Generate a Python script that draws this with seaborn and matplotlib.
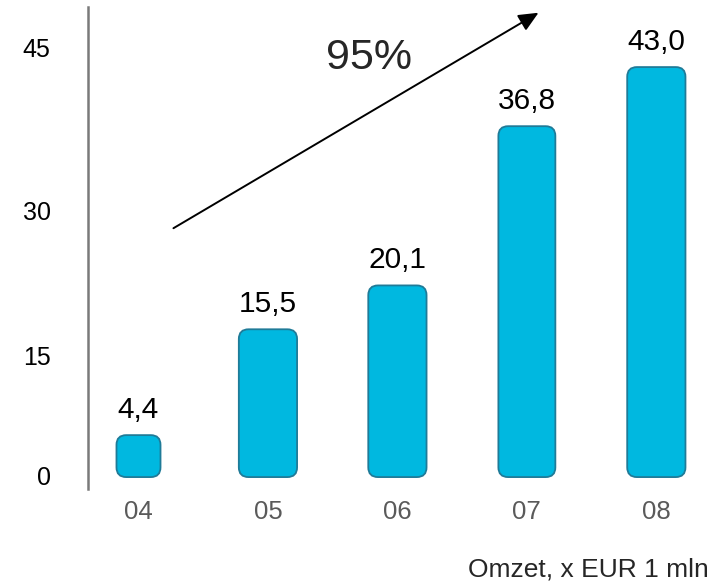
import matplotlib
matplotlib.use("Agg")
import matplotlib.pyplot as plt
import seaborn as sns
import pandas as pd
from matplotlib.patches import FancyBboxPatch

years = ["04", "05", "06", "07", "08"]
omzet = [4.4, 15.5, 20.1, 36.8, 43.0]
value_labels = ["4,4", "15,5", "20,1", "36,8", "43,0"]
ytick_labels = ["0", "15", "30", "45"]
ytick_pos = [0.2, 12.8, 28.0, 45.1]
growth_label = "95%"
unit_label = "Omzet, x EUR 1 mln"

# drawing styles (not data)
bar_widths = [0.34, 0.45, 0.45, 0.44, 0.45]

sns.set_theme(style="white")
plt.rcParams["font.family"] = ["Liberation Sans", "DejaVu Sans"]

df = pd.DataFrame({"jaar": years, "omzet": omzet})

W, H = 720, 583
fig = plt.figure(figsize=(7.2, 5.83), dpi=100)
ax_left, ax_right, ax_top, ax_bot = 88, 712, 7, 489
ax = fig.add_axes([ax_left / W, (H - ax_bot) / H, (ax_right - ax_left) / W, (ax_bot - ax_top) / H])

sns.barplot(data=df, x="jaar", y="omzet", color="#00B8E0", width=0.45, ax=ax,
            saturation=1)

xpx = 129.5  # px per category
ypx = 9.53   # px per unit
bars = list(ax.patches)
for i, p in enumerate(bars):
    cx = p.get_x() + p.get_width() / 2
    y0, h = p.get_y(), p.get_height()
    w = bar_widths[i]
    p.remove()
    fb = FancyBboxPatch((cx - w / 2, y0), w, h,
                        boxstyle="round,pad=0,rounding_size=0.075",
                        mutation_aspect=xpx / ypx,
                        facecolor="#00B8E0", edgecolor="#1F7B98", linewidth=1.3)
    ax.add_patch(fb)
    ax.text(cx, y0 + h + 1.2, value_labels[i],
            ha="center", va="bottom", fontsize=21.5, color="black")

ax.set_xlim(-0.39, 4.43)
ax.set_ylim(-1.25, 49.3)

for s in ["top", "right", "bottom"]:
    ax.spines[s].set_visible(False)
ax.spines["left"].set_color("#7a7a7a")
ax.spines["left"].set_linewidth(1.8)

ax.set_yticks(ytick_pos)
ax.set_yticklabels(ytick_labels)
ax.tick_params(axis="y", length=0, pad=27, labelsize=18, labelcolor="black")
ax.tick_params(axis="x", length=0, pad=8, labelsize=18.5, labelcolor="#5a5a5a")
ax.set_xlabel("")
ax.set_ylabel("")

ax.annotate("", xy=(3.09, 48.7), xytext=(0.27, 26.1),
            arrowprops=dict(arrowstyle="-|>,head_length=1.0,head_width=0.45",
                            color="black", lw=1.4, shrinkA=0, shrinkB=0),
            annotation_clip=False)
ax.text(1.78, 43.9, growth_label, ha="center", va="center", fontsize=31)

fig.text(709 / W, 1 - 577 / H, unit_label, ha="right", va="baseline", fontsize=19)

fig.savefig("out.png", dpi=100)
